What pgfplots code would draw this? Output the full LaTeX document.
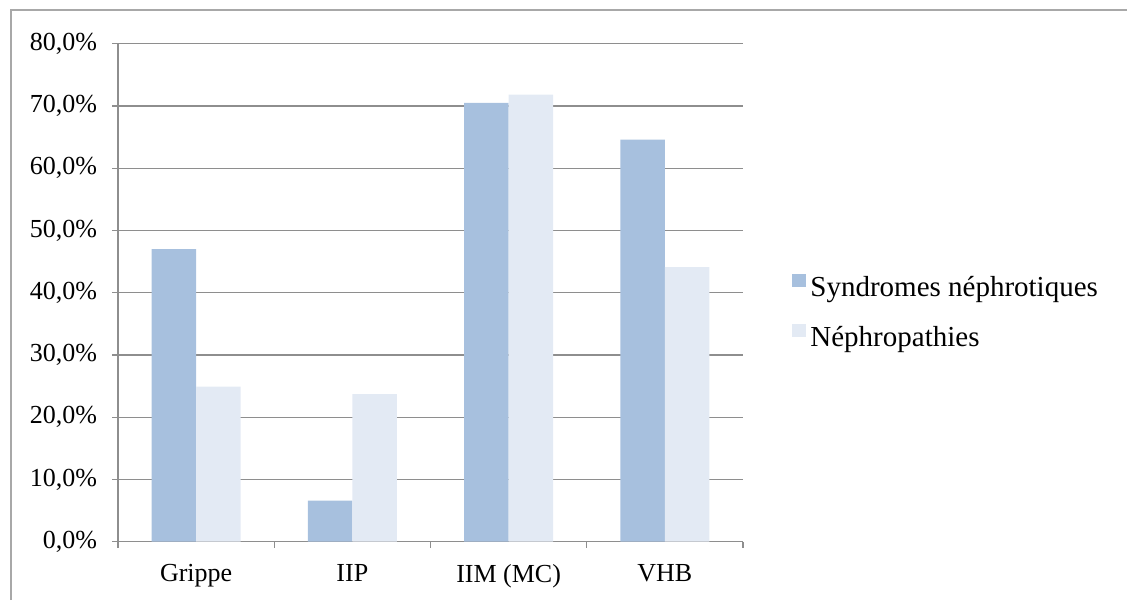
\documentclass[border=0pt]{standalone}
\usepackage{pgfplots}
\pgfplotsset{compat=1.18}
\usepackage{fontspec}
\setmainfont{Liberation Serif}
\definecolor{barA}{HTML}{A7C0DE}
\definecolor{barB}{HTML}{E3EAF4}
\definecolor{gridc}{HTML}{8E8E8E}
\definecolor{framec}{HTML}{A8A8A8}
\begin{document}
\begin{tikzpicture}
\draw[framec, line width=0.7pt] (5.5pt,0pt) -- (5.5pt,295pt) -- (563.5pt,295pt);
\begin{axis}[
  at={(59pt,29.15pt)}, anchor=south west,
  scale only axis, width=312.5pt, height=249pt,
  xmin=-0.5, xmax=3.5, ymin=0, ymax=80,
  axis x line=bottom, axis y line=left,
  axis line style={gridc, line width=0.6pt, -},
  every tick/.style={gridc, line width=0.6pt},
  tick align=outside, major tick length=3pt,
  /pgf/number format/assume math mode=true,
  tick label style={font=\fontsize{13pt}{15pt}\selectfont},
  yticklabel style={xshift=-4pt},
  xticklabel style={yshift=-8pt},
  ytick={0,10,...,80},
  yticklabel={\pgfmathprintnumber[fixed,fixed zerofill,precision=1,use comma]{\tick}\%},
  ymajorgrids, grid style={gridc, line width=0.6pt},
  xtick={-0.5,0.5,1.5,2.5,3.5}, xticklabels={},
  extra x ticks={0,1,2,3},
  extra x tick labels={Grippe,IIP,IIM (MC),VHB},
  extra x tick style={major tick length=0pt, grid=none},
  legend style={at={(1,0.5)}, anchor=west, xshift=24.5pt, yshift=-10pt,
    draw=none, fill=none, font=\fontsize{14.5pt}{17pt}\selectfont, row sep=9.5pt, inner xsep=0pt},
  legend cell align=left,
]
\addplot[ybar, fill=barA, draw=none, bar width=0.2855, bar shift=-0.14275,
  legend image code/.code={\fill[barA] (0pt,0.5pt) rectangle (7pt,7pt);}]
  coordinates {(0,47.0) (1,6.6) (2,70.5) (3,64.6)};
\addlegendentry{Syndromes néphrotiques}
\addplot[ybar, fill=barB, draw=none, bar width=0.2855, bar shift=0.14275,
  legend image code/.code={\fill[barB] (0pt,0.5pt) rectangle (7pt,7pt);}]
  coordinates {(0,24.9) (1,23.7) (2,71.8) (3,44.1)};
\addlegendentry{Néphropathies}
\end{axis}
\pgfresetboundingbox
\path[use as bounding box] (0,0) rectangle (563.5pt,300pt);
\end{tikzpicture}
\end{document}
